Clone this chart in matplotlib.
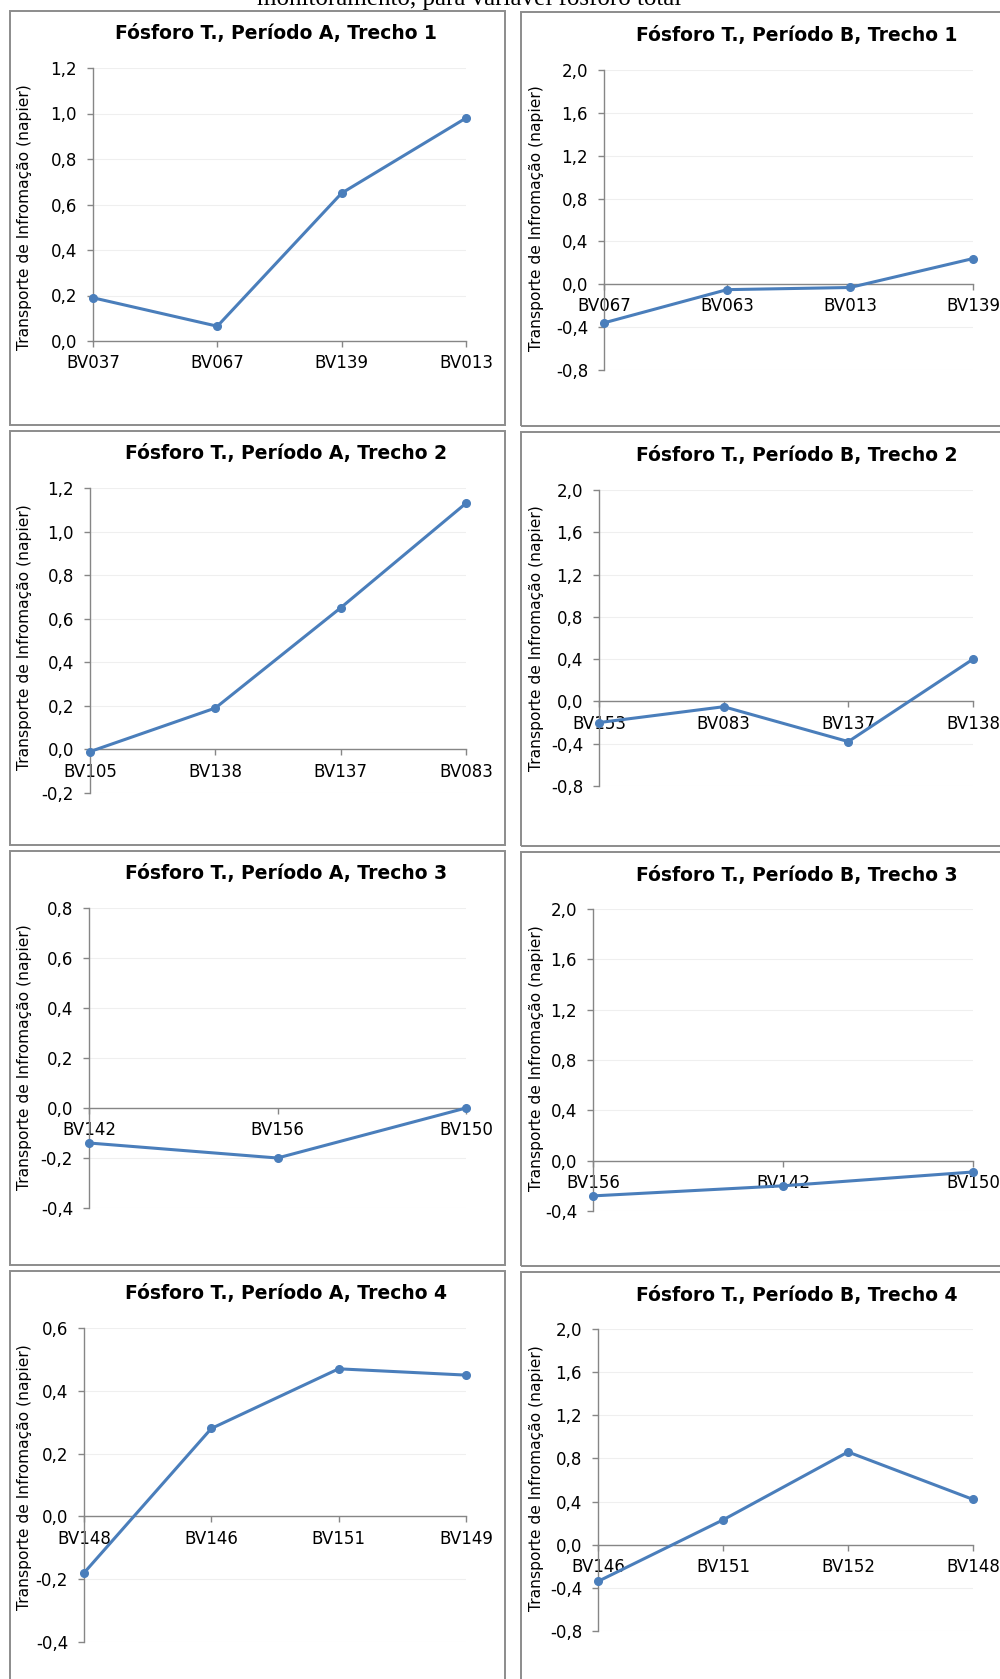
import matplotlib
matplotlib.use("Agg")
import matplotlib.pyplot as plt
import numpy as np
from matplotlib.patches import Rectangle
from matplotlib.ticker import FuncFormatter

W, H = 1000, 1679

# data, panel order: A1, B1, A2, B2, A3, B3, A4, B4
titles = [
    "Fósforo T., Período A, Trecho 1", "Fósforo T., Período B, Trecho 1",
    "Fósforo T., Período A, Trecho 2", "Fósforo T., Período B, Trecho 2",
    "Fósforo T., Período A, Trecho 3", "Fósforo T., Período B, Trecho 3",
    "Fósforo T., Período A, Trecho 4", "Fósforo T., Período B, Trecho 4",
]
cats_a1 = ["BV037", "BV067", "BV139", "BV013"]
vals_a1 = [0.19, 0.065, 0.65, 0.98]
cats_b1 = ["BV067", "BV063", "BV013", "BV139"]
vals_b1 = [-0.36, -0.05, -0.03, 0.24]
cats_a2 = ["BV105", "BV138", "BV137", "BV083"]
vals_a2 = [-0.01, 0.19, 0.65, 1.13]
cats_b2 = ["BV153", "BV083", "BV137", "BV138"]
vals_b2 = [-0.20, -0.05, -0.38, 0.40]
cats_a3 = ["BV142", "BV156", "BV150"]
vals_a3 = [-0.14, -0.20, 0.0]
cats_b3 = ["BV156", "BV142", "BV150"]
vals_b3 = [-0.28, -0.20, -0.09]
cats_a4 = ["BV148", "BV146", "BV151", "BV149"]
vals_a4 = [-0.18, 0.28, 0.47, 0.45]
cats_b4 = ["BV146", "BV151", "BV152", "BV148"]
vals_b4 = [-0.34, 0.23, 0.86, 0.42]

# y axis (min, max, step) per panel
yranges = [(0.0, 1.2, 0.2), (-0.8, 2.0, 0.4),
           (-0.2, 1.2, 0.2), (-0.8, 2.0, 0.4),
           (-0.4, 0.8, 0.2), (-0.4, 2.0, 0.4),
           (-0.4, 0.6, 0.2), (-0.8, 2.0, 0.4)]

cats = [cats_a1, cats_b1, cats_a2, cats_b2, cats_a3, cats_b3, cats_a4, cats_b4]
vals = [vals_a1, vals_b1, vals_a2, vals_b2, vals_a3, vals_b3, vals_a4, vals_b4]

# plot area rectangles in pixels: left, right, top, bottom
plot_px = [(93, 466, 68, 341), (604, 973, 70, 370),
           (90, 466, 488, 793), (599, 973, 490, 786),
           (89, 466, 908, 1208), (593, 973, 909, 1211),
           (84, 466, 1328, 1642), (598, 973, 1329, 1631)]
box_tops_a = [11, 431, 851, 1271]
box_tops_b = [12, 432, 852, 1272]

blue = "#4A7EBB"
grey = "#868686"

fig = plt.figure(figsize=(W / 100, H / 100), dpi=100)
fig.patch.set_facecolor("white")

# clipped caption line at the very top
fig.text(469 / W, 1 - 5 / H, "monitoramento, para variável fósforo total",
         ha="center", va="baseline", fontsize=18, family="Liberation Serif")


def comma(v, pos):
    v = round(v, 2)
    if abs(v) < 1e-9:
        v = 0.0
    return f"{v:.1f}".replace(".", ",")


for i in range(8):
    row, col = divmod(i, 2)
    top = box_tops_a[row] if col == 0 else box_tops_b[row]
    bx0, bx1 = (9.5, 505) if col == 0 else (521, 1020)
    fig.patches.append(Rectangle((bx0 / W, 1 - (top + 414) / H), (bx1 - bx0) / W, 414 / H,
                                 transform=fig.transFigure, fill=False,
                                 edgecolor="#8C8C8C", linewidth=1.4, zorder=0))

    l, r, t, b = plot_px[i]
    ax = fig.add_axes([l / W, 1 - b / H, (r - l) / W, (b - t) / H])
    lo, hi, st = yranges[i]
    x = np.arange(len(cats[i]))
    ax.set_xlim(0, len(cats[i]) - 1)
    ax.set_ylim(lo, hi)
    yt = np.round(np.arange(lo, hi + st / 2, st), 2)
    ax.set_yticks(yt)
    ax.yaxis.set_major_formatter(FuncFormatter(comma))
    ax.grid(axis="y", color="#EFEFEF", linewidth=0.8)
    ax.set_axisbelow(True)

    for s in ["top", "right"]:
        ax.spines[s].set_visible(False)
    ax.spines["bottom"].set_position(("data", 0))
    ax.spines["bottom"].set_color(grey)
    ax.spines["left"].set_color(grey)
    ax.spines["bottom"].set_linewidth(1.0)
    ax.spines["left"].set_linewidth(1.0)

    ax.set_xticks(x)
    ax.set_xticklabels(cats[i])
    ax.tick_params(axis="both", direction="out", length=4.5, width=1.0,
                   color=grey, labelsize=12, labelcolor="black")
    ax.tick_params(axis="x", pad=5)
    ax.tick_params(axis="y", pad=7)

    ax.plot(x, vals[i], color=blue, linewidth=2.2, marker="o", markersize=5.5,
            clip_on=False, zorder=3)

    tx = (276 if row == 0 else 286) if col == 0 else 797
    fig.text(tx / W, 1 - (top + 23) / H, titles[i], ha="center", va="center",
             fontsize=13.5, fontweight="bold")
    ly = 25 if col == 0 else 537
    fig.text(ly / W, 1 - (top + 206) / H, "Transporte de Infromação (napier)",
             ha="center", va="center", rotation=90, fontsize=11.2)

fig.savefig("out.png", dpi=100)
